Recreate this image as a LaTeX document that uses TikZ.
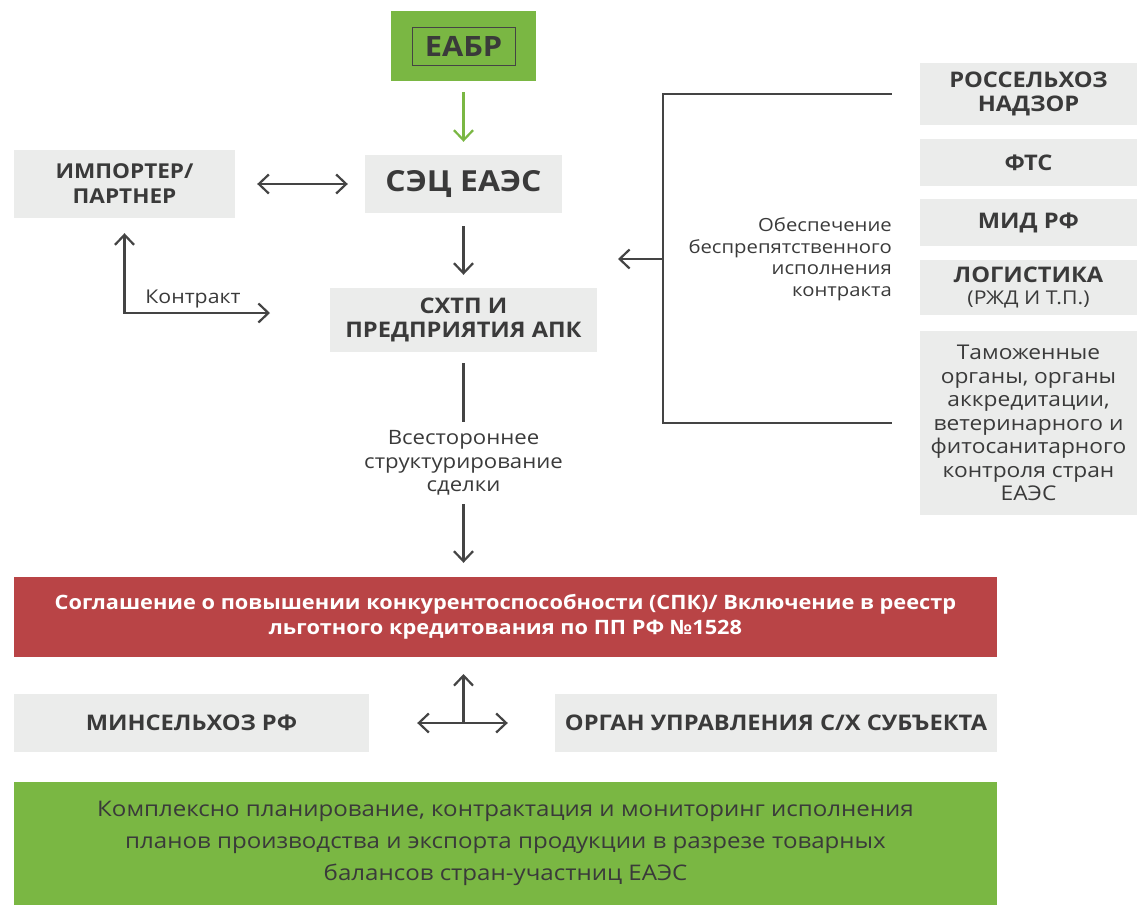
\documentclass[tikz,border=0pt]{standalone}
\usepackage{fontspec}
\setmainfont{Open Sans}[UprightFeatures={FakeStretch=1.12}, BoldFeatures={FakeStretch=1.1}]
\usetikzlibrary{arrows.meta,calc}
\definecolor{boxgray}{HTML}{EBECEB}
\definecolor{egreen}{HTML}{7AB743}
\definecolor{ered}{HTML}{B94446}
\definecolor{etext}{HTML}{3A3A3A}
\definecolor{eline}{HTML}{444444}
\tikzset{
  gbox/.style={fill=boxgray, inner sep=0pt, align=center, text=etext, font=\bfseries\fontsize{21.5}{24}\selectfont},
  tip/.tip={Straight Barb[length=10pt,width=19pt,line width=2.2pt]},
  conn/.style={draw=eline, line width=2.2pt, -tip},
  conn2/.style={draw=eline, line width=2.2pt, tip-tip},
  plain/.style={draw=eline, line width=2.2pt},
  lbl/.style={text=etext, inner sep=0pt, font=\fontsize{19}{22.5}\selectfont},
}
\begin{document}
\begin{tikzpicture}[x=1pt,y=-1pt]
\useasboundingbox (0,0) rectangle (1137,905);
% top
\node[fill=egreen, minimum width=145pt, minimum height=70pt, inner sep=0pt] (eabr) at (463.5,46) {};
\node[draw=eline, line width=1pt, minimum width=103pt, minimum height=38pt, inner sep=0pt, text=etext, font=\bfseries\fontsize{28}{32}\selectfont] (eabrt) at (463.5,46) {ЕАБР};
\node[gbox, minimum width=197pt, minimum height=58pt, font=\bfseries\fontsize{29}{32}\selectfont] (sec) at (463.5,184) {СЭЦ ЕАЭС};
\node[gbox, minimum width=221pt, minimum height=68pt, font=\bfseries\fontsize{20.5}{25}\selectfont] (imp) at (124.5,184) {ИМПОРТЕР/\\ПАРТНЕР};
\node[gbox, minimum width=267pt, minimum height=64pt] (schtp) at (463.5,320) {СХТП И\\ПРЕДПРИЯТИЯ АПК};
% right column
\node[gbox, minimum width=217pt, minimum height=62pt] (ros) at (1028.5,94) {РОССЕЛЬХОЗ\\НАДЗОР};
\node[gbox, minimum width=217pt, minimum height=47pt] (fts) at (1028.5,162.5) {ФТС};
\node[gbox, minimum width=217pt, minimum height=47pt] (mid) at (1028.5,222.5) {МИД РФ};
\node[gbox, minimum width=217pt, minimum height=55pt] (log) at (1028.5,287.5) {ЛОГИСТИКА\\[-2pt]{\mdseries\fontsize{19}{21}\selectfont (РЖД И Т.П.)}};
\node[gbox, minimum width=217pt, minimum height=184pt, font=\fontsize{20.3}{23.5}\selectfont] (tam) at (1028.5,423) {Таможенные\\органы, органы\\аккредитации,\\ветеринарного и\\фитосанитарного\\контроля стран\\ЕАЭС};
% red and bottom
\node[fill=ered, minimum width=983pt, minimum height=80pt, inner sep=0pt, align=center, text=white, font=\bfseries\fontsize{19.8}{24.5}\selectfont] (red) at (505.5,617) {Соглашение о повышении конкурентоспособности (СПК)/ Включение в реестр\\льготного кредитования по ПП РФ №1528};
\node[gbox, minimum width=355pt, minimum height=58pt] (minsel) at (191.5,723) {МИНСЕЛЬХОЗ РФ};
\node[gbox, minimum width=442pt, minimum height=58pt] (organ) at (776,723) {ОРГАН УПРАВЛЕНИЯ С/Х СУБЪЕКТА};
\node[fill=egreen, minimum width=983pt, minimum height=123pt, inner sep=0pt, align=center, text=etext, font=\fontsize{21.5}{32}\selectfont] (plan) at (505.5,843.5) {Комплексно планирование, контрактация и мониторинг исполнения\\планов производства и экспорта продукции в разрезе товарных\\балансов стран-участниц ЕАЭС};
% labels
\node[lbl] (kontr) at (193,299) {Контракт};
\node[lbl, align=center, minimum height=82pt, font=\fontsize{19.8}{23.5}\selectfont] (vses) at (463.5,463) {Всестороннее\\структурирование\\сделки};
\node[lbl, align=right, anchor=east, font=\fontsize{18.1}{21.5}\selectfont] (obesp) at (892,259) {Обеспечение\\беспрепятственного\\исполнения\\контракта};
% coordinates
\coordinate (kc) at (124.5,313);
\coordinate (kend) at (270,313);
\coordinate (bx) at (663,259);
\coordinate (bxa) at (618,259);
\coordinate (cross) at (463.5,722);
\coordinate (crossup) at (463.5,674);
% connectors
\draw[conn, draw=egreen, shorten <=11pt, shorten >=13pt] (eabr.south) -- (sec.north);
\draw[conn2, shorten <=22pt, shorten >=17pt] (imp.east) -- (sec.west);
\draw[conn, shorten <=13pt, shorten >=13pt] (sec.south) -- (schtp.north);
\draw[conn2] ([yshift=-15pt]imp.south) -- (kc) -- (kend);
\draw[plain, shorten <=11pt] (schtp.south) -- (vses.north);
\draw[conn, shorten >=14pt] (vses.south) -- (red.north -| vses.south);
\draw[plain] ([xshift=-28pt]ros.west) -| (bx) |- ([xshift=-28pt]tam.west);
\draw[conn] (bx) -- (bxa);
\draw[conn2, shorten <=48pt, shorten >=47pt] (minsel.east) -- (organ.west);
\draw[conn] (cross) -- (crossup);
\end{tikzpicture}
\end{document}
